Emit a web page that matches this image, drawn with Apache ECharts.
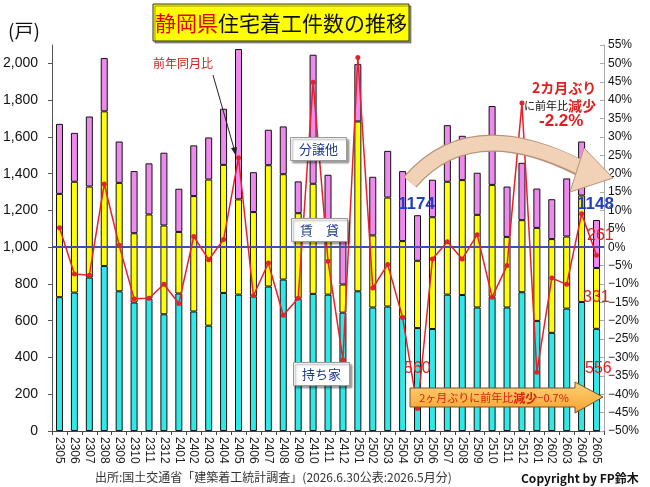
<!DOCTYPE html>
<html>
<head>
<meta charset="utf-8">
<script src="https://cdn.jsdelivr.net/npm/echarts@6/dist/echarts.min.js"></script>
<style>
  html, body { margin: 0; padding: 0; background: #fff; }
  #main { width: 650px; height: 487px; }
</style>
</head>
<body>
<div id="main"></div>
<script>
// 月（年下2桁+月）
var months = ['2305','2306','2307','2308','2309','2310','2311','2312','2401','2402','2403','2404',
  '2405','2406','2407','2408','2409','2410','2411','2412','2501','2502','2503','2504',
  '2505','2506','2507','2508','2509','2510','2511','2512','2601','2602','2603','2604','2605'];
// 持ち家
var mochiie = [728, 753, 835, 898, 760, 699, 720, 635, 748, 650, 573, 751,
  742, 733, 786, 824, 720, 746, 742, 644, 760, 672, 677, 621,
  560, 555, 742, 740, 672, 730, 672, 755, 599, 534, 666, 702, 556];
// 賃貸
var chintai = [562, 603, 495, 841, 590, 377, 458, 483, 335, 628, 795, 697,
  518, 458, 660, 573, 465, 599, 351, 153, 924, 392, 593, 412,
  366, 608, 614, 625, 504, 609, 384, 392, 506, 510, 392, 579, 331];
// 分譲他
var bunjo = [381, 266, 381, 290, 225, 338, 278, 396, 235, 276, 229, 305,
  818, 217, 193, 260, 173, 702, 301, 303, 312, 319, 254, 381,
  248, 204, 308, 241, 229, 429, 274, 312, 214, 217, 316, 294, 261];
// 前年同月比（%）
var yoy = [5.3, -7.3, -7.6, 17.2, 0.5, -14.0, -13.9, -10.1, -15.3, 2.9, -3.4, 2.1,
  24.3, -13.2, -4.3, -18.5, -13.9, 44.9, -3.8, -30.6, 51.6, -11.1, -4.7, -19.1,
  -43.9, -3.2, 1.5, -3.2, 3.4, -13.6, -5.0, 39.2, -34.0, -8.4, -10.1, 9.1, -2.2];

var chart = echarts.init(document.getElementById('main'));
var jp = '"Noto Sans CJK JP", sans-serif';

function labelBox(x, y, w, txt) { // 凡例代わりのラベル
  return {
    type: 'group', left: x, top: y,
    children: [
      { type: 'rect', z: 50, shape: { x: 0, y: 0, width: w, height: 23 },
        style: { fill: '#fff', stroke: '#999', lineWidth: 1, shadowColor: 'rgba(0,0,0,0.35)', shadowOffsetX: 2, shadowOffsetY: 2, shadowBlur: 2 } },
      { type: 'text', z: 51, x: w / 2, y: 12,
        style: { text: txt, fill: '#1d3a8c', font: '13px ' + jp, align: 'center', verticalAlign: 'middle' } }
    ]
  };
}

var option = {
  animation: false,
  grid: { left: 52, right: 46, top: 45, bottom: 56 },
  xAxis: {
    type: 'category',
    data: months,
    axisLine: { lineStyle: { color: '#444' } },
    axisTick: { show: true, length: 4, lineStyle: { color: '#444' } },
    axisLabel: { interval: 0, rotate: -90, color: '#222', fontSize: 12, fontFamily: 'Liberation Sans', margin: 6 }
  },
  yAxis: [
    {
      type: 'value', min: 0, max: 2100, interval: 200,
      axisLine: { show: true, lineStyle: { color: '#555' } },
      axisTick: { show: true, length: 4, lineStyle: { color: '#555' } },
      splitLine: { show: false },
      axisLabel: {
        showMaxLabel: false, color: '#111', fontSize: 14, fontFamily: 'Liberation Sans', margin: 14,
        formatter: function (v) { return v.toLocaleString('en-US'); }
      }
    },
    {
      type: 'value', min: -50, max: 55, interval: 5,
      axisLine: { show: true, lineStyle: { color: '#aaa' } },
      axisTick: { show: true, inside: true, length: 4, lineStyle: { color: '#aaa' } },
      splitLine: { show: false },
      axisLabel: {
        color: '#111', fontSize: 12, fontFamily: '"Liberation Sans Narrow", "Liberation Sans"', margin: 4,
        formatter: function (v) { return (v < 0 ? '\u2212' + (-v) : v) + '%'; }
      }
    }
  ],
  series: [
    {
      name: '持ち家', type: 'bar', stack: 'total', barWidth: 7,
      itemStyle: { color: '#2fe8e8', borderColor: '#111', borderWidth: 1 },
      data: mochiie
    },
    {
      name: '賃貸', type: 'bar', stack: 'total', barWidth: 7,
      itemStyle: { color: '#ffff00', borderColor: '#111', borderWidth: 1 },
      data: chintai
    },
    {
      name: '分譲他', type: 'bar', stack: 'total', barWidth: 7,
      itemStyle: { color: '#ee8aee', borderColor: '#111', borderWidth: 1 },
      data: bunjo
    },
    {
      name: '前年同月比', type: 'line', yAxisIndex: 1, z: 5,
      symbol: 'circle', symbolSize: 5,
      lineStyle: { color: '#e8202a', width: 1.5 },
      itemStyle: { color: '#e8202a' },
      data: yoy,
      markLine: { //0%の基準線
        silent: true, symbol: 'none', label: { show: false },
        lineStyle: { color: '#3d4fb0', width: 2, type: 'solid' },
        data: [{ yAxis: 0 }]
      }
    }
  ],
  graphic: [
    // タイトル
    { type: 'rect', z: 50, shape: { x: 153, y: 4, width: 256, height: 37 },
      style: { fill: '#ffff00', stroke: '#333', lineWidth: 1, shadowColor: 'rgba(0,0,0,0.4)', shadowOffsetX: 2, shadowOffsetY: 2 } },
    { type: 'text', z: 51, x: 281, y: 23,
      style: { text: '{r|静岡県}{k|住宅着工件数の推移}', align: 'center', verticalAlign: 'middle',
        rich: { r: { fill: '#e60000', font: '21px ' + jp }, k: { fill: '#111', font: '21px ' + jp } } } },
    { type: 'text', x: 8, y: 21, style: { text: '(戸)', fill: '#111', font: '19px ' + jp } },
    // 前年同月比の注記
    { type: 'text', z: 50, x: 153, y: 57, style: { text: '前年同月比', fill: '#d42020', font: '12px ' + jp } },
    { type: 'line', z: 50, shape: { x1: 213, y1: 75, x2: 235, y2: 152 }, style: { stroke: '#222', lineWidth: 1 } },
    { type: 'polygon', z: 50, shape: { points: [[236, 156], [231, 148], [237, 147]] }, style: { fill: '#222' } },
    labelBox(290, 137, 56, '分譲他'),
    labelBox(291, 218, 56, '賃　貸'),
    labelBox(293, 362, 56, '持ち家'),
    // 曲線の矢印
    { type: 'bezierCurve', z: 40, shape: { x1: 410, y1: 182, cpx1: 470, cpy1: 112, x2: 580, y2: 168 },
      style: { stroke: '#b8937a', lineWidth: 17, fill: null } },
    { type: 'bezierCurve', z: 41, shape: { x1: 410, y1: 182, cpx1: 470, cpy1: 112, x2: 582, y2: 168 },
      style: { stroke: '#f1d2b6', lineWidth: 14.5, fill: null } },
    { type: 'polygon', z: 42, shape: { points: [[584, 148], [613, 178], [570, 192]] },
      style: { fill: '#f1d2b6', stroke: '#b8937a', lineWidth: 1 } },
    // 数値注記
    { type: 'text', z: 60, x: 398, y: 196, style: { text: '1174', fill: '#1f3fbf', font: 'bold 17px "Liberation Sans"' } },
    { type: 'text', z: 60, x: 577, y: 196, style: { text: '1148', fill: '#1f3fbf', font: 'bold 17px "Liberation Sans"' } },
    { type: 'text', z: 60, x: 587, y: 228, style: { text: '261', fill: '#e02020', font: '16px "Liberation Sans"' } },
    { type: 'text', z: 60, x: 583, y: 290, style: { text: '331', fill: '#e02020', font: '16px "Liberation Sans"' } },
    { type: 'text', z: 60, x: 585, y: 361, style: { text: '556', fill: '#e02020', font: '16px "Liberation Sans"' } },
    { type: 'text', z: 60, x: 404, y: 361, style: { text: '560', fill: '#e02020', font: '16px "Liberation Sans"' } },
    { type: 'text', z: 60, x: 532, y: 81, style: { text: '2カ月ぶり', fill: '#e02020', font: 'bold 14px ' + jp } },
    { type: 'text', z: 60, x: 524, y: 99,
      style: { text: '{a|に前年比}{b|減少}', rich: { a: { fill: '#111', font: '11px ' + jp }, b: { fill: '#e02020', font: 'bold 14px ' + jp } } } },
    { type: 'text', z: 60, x: 539, y: 113, style: { text: '-2.2%', fill: '#e02020', font: 'bold 17px "Liberation Sans"' } },
    // 下の矢印
    { type: 'polygon', z: 45,
      shape: { points: [[410, 388], [575, 388], [575, 382], [603, 397], [575, 413], [575, 407], [410, 407]] },
      style: {
        fill: new echarts.graphic.LinearGradient(0, 0, 0, 1, [
          { offset: 0, color: '#ffd27a' }, { offset: 1, color: '#f7a22c' }
        ]),
        stroke: '#6d5530', lineWidth: 1
      } },
    { type: 'text', z: 46, x: 494, y: 398,
      style: { text: '{a|2ヶ月ぶりに前年比}{b|減少}{a|−0.7%}', align: 'center', verticalAlign: 'middle',
        rich: { a: { fill: '#d8200c', font: '11px ' + jp }, b: { fill: '#d8200c', font: 'bold 12px ' + jp } } } },
    // 出所
    { type: 'text', x: 95, y: 471, style: { text: '出所:国土交通省「建築着工統計調査」(2026.6.30公表:2026.5月分)', fill: '#333', font: '12px ' + jp } },
    { type: 'text', x: 521, y: 472, style: { text: 'Copyright by FP鈴木', fill: '#111', font: 'bold 12px ' + jp } }
  ]
};

chart.setOption(option);
</script>
</body>
</html>
